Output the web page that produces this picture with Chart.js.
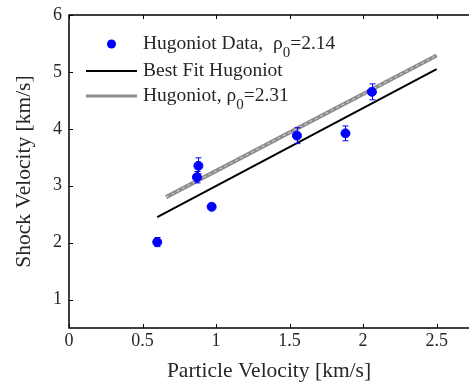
<!DOCTYPE html>
<html lang="en">
<head>
    <meta charset="UTF-8">
    <title>Hugoniot</title>
    <style>
        body {
            margin: 0;
            background: #fff;
        }
        #wrap {
            width: 469px;
            height: 385px;
        }
    </style>
    <script src="https://cdn.jsdelivr.net/npm/chart.js"></script>
</head>
<body>
    <div id="wrap">
        <canvas id="myChart" width="469" height="385"></canvas>
    </div>

    <script>
        // Hugoniot data points
        const dataX = [0.60, 0.88, 0.87, 0.97, 1.55, 1.88, 2.06];
        const dataY = [2.01, 3.35, 3.15, 2.63, 3.88, 3.92, 4.65];
        const dataErr = [0.08, 0.14, 0.10, 0.02, 0.14, 0.13, 0.14];

        // best fit line (end points)
        const fitX = [0.60, 2.50];
        const fitY = [2.45, 5.05];

        // Hugoniot for rho0 = 2.31 (end points)
        const hugX = [0.66, 2.50];
        const hugY = [2.80, 5.29];

        const xTicks = [0, 0.5, 1, 1.5, 2, 2.5];
        const yTicks = [1, 2, 3, 4, 5, 6];

        const legendLabels = ['Hugoniot Data,  ρ_0=2.14', 'Best Fit Hugoniot', 'Hugoniot, ρ_0=2.31'];

        const FONT = '"Liberation Serif", "DejaVu Serif", serif';
        const TXT = '#262626';

        function pts(xs, ys) {
            return xs.map((x, i) => ({ x: x, y: ys[i] }));
        }

        // error bars for the data points
        const errorBars = {
            id: 'errorBars',
            afterDatasetsDraw(chart) {
                const ctx = chart.ctx;
                const xs = chart.scales.x, ys = chart.scales.y;
                ctx.save();
                ctx.strokeStyle = '#0000ff';
                ctx.lineWidth = 1;
                dataX.forEach((x, i) => {
                    const px = Math.round(xs.getPixelForValue(x)) + 0.5;
                    const top = ys.getPixelForValue(dataY[i] + dataErr[i]);
                    const bot = ys.getPixelForValue(dataY[i] - dataErr[i]);
                    ctx.beginPath();
                    ctx.moveTo(px, top); ctx.lineTo(px, bot);
                    ctx.moveTo(px - 3, top); ctx.lineTo(px + 3, top);
                    ctx.moveTo(px - 3, bot); ctx.lineTo(px + 3, bot);
                    ctx.stroke();
                });
                ctx.restore();
            }
        };

        // matlab style box with inward ticks
        const boxAxes = {
            id: 'boxAxes',
            afterDraw(chart) {
                const ctx = chart.ctx;
                const a = chart.chartArea;
                const xs = chart.scales.x, ys = chart.scales.y;
                ctx.save();
                ctx.strokeStyle = '#000';
                ctx.lineWidth = 1.5;
                ctx.beginPath();
                ctx.rect(a.left, a.top, a.right - a.left + 5, a.bottom - a.top);
                ctx.stroke();
                ctx.lineWidth = 1;
                ctx.beginPath();
                xTicks.forEach(v => {
                    const px = Math.round(xs.getPixelForValue(v)) + 0.5;
                    ctx.moveTo(px, a.bottom); ctx.lineTo(px, a.bottom - 4);
                    ctx.moveTo(px, a.top); ctx.lineTo(px, a.top + 4);
                });
                yTicks.forEach(v => {
                    const py = Math.round(ys.getPixelForValue(v)) + 0.5;
                    ctx.moveTo(a.left, py); ctx.lineTo(a.left + 4, py);
                });
                ctx.stroke();
                ctx.restore();
            }
        };

        // legend drawn by hand because of the subscripts
        const hugLegend = {
            id: 'hugLegend',
            afterDraw(chart) {
                const ctx = chart.ctx;
                const rows = [44, 71, 96];
                ctx.save();
                ctx.textBaseline = 'middle';
                legendLabels.forEach((lab, i) => {
                    const y = rows[i];
                    // sample
                    if (i === 0) {
                        ctx.fillStyle = '#0000ff';
                        ctx.beginPath();
                        ctx.arc(111.5, y, 4.5, 0, Math.PI * 2);
                        ctx.fill();
                    } else {
                        ctx.strokeStyle = i === 1 ? '#000' : '#8c8c8c';
                        ctx.lineWidth = i === 1 ? 2 : 3;
                        ctx.beginPath();
                        ctx.moveTo(86, y); ctx.lineTo(137, y);
                        ctx.stroke();
                    }
                    // text with subscript
                    ctx.fillStyle = TXT;
                    let x = 143;
                    const parts = lab.split('_');
                    ctx.font = '19.5px ' + FONT;
                    ctx.fillText(parts[0], x, y);
                    x += ctx.measureText(parts[0]).width;
                    if (parts.length > 1) {
                        const sub = parts[1].charAt(0);
                        const rest = parts[1].slice(1);
                        ctx.font = '15px ' + FONT;
                        ctx.fillText(sub, x, y + 9);
                        x += ctx.measureText(sub).width;
                        ctx.font = '19.5px ' + FONT;
                        ctx.fillText(rest, x, y);
                    }
                });
                ctx.restore();
            }
        };

        const ctx = document.getElementById('myChart').getContext('2d');
        const myChart = new Chart(ctx, {
            type: 'scatter',
            data: {
                datasets: [
                    {
                        label: 'Hugoniot Data',
                        data: pts(dataX, dataY),
                        backgroundColor: '#0000ff',
                        borderColor: '#0000ff',
                        pointRadius: 4.5,
                        order: 0
                    },
                    {
                        label: 'Best Fit Hugoniot',
                        type: 'line',
                        data: pts(fitX, fitY),
                        borderColor: '#000',
                        borderWidth: 2,
                        pointRadius: 0,
                        order: 2
                    },
                    {
                        label: 'Hugoniot',
                        type: 'line',
                        data: pts(hugX, hugY),
                        borderColor: '#8c8c8c',
                        borderWidth: 4,
                        pointRadius: 0,
                        order: 3
                    },
                    {
                        label: 'Hugoniot band',
                        type: 'line',
                        data: pts(hugX, hugY),
                        borderColor: '#c8c8c8',
                        borderWidth: 1.2,
                        borderDash: [3, 3],
                        pointRadius: 0,
                        order: 1
                    }
                ]
            },
            options: {
                responsive: false,
                animation: false,
                events: [],
                layout: { autoPadding: false, padding: { top: 15, right: 0, left: 0, bottom: 0 } },
                plugins: {
                    legend: { display: false },
                    tooltip: { enabled: false }
                },
                scales: {
                    x: {
                        type: 'linear',
                        min: 0,
                        max: 2.72,
                        afterBuildTicks: s => { s.ticks = xTicks.map(v => ({ value: v })); },
                        afterFit: s => {
                            s.height = 57;
                            s.paddingLeft = 0;
                            s.paddingRight = 0;
                        },
                        grid: { display: false, drawTicks: false },
                        border: { display: false },
                        ticks: {
                            padding: 2,
                            color: TXT,
                            font: { family: FONT, size: 18 },
                            maxRotation: 0,
                            callback: v => String(v)
                        },
                        title: {
                            display: true,
                            text: 'Particle Velocity [km/s]',
                            color: TXT,
                            font: { family: FONT, size: 21.5 },
                            padding: { top: 0, bottom: 1 }
                        }
                    },
                    y: {
                        type: 'linear',
                        min: 0.5,
                        max: 6,
                        afterBuildTicks: s => { s.ticks = yTicks.map(v => ({ value: v })); },
                        afterFit: s => {
                            s.width = 69;
                            s.paddingTop = 0;
                            s.paddingBottom = 0;
                        },
                        grid: { display: false, drawTicks: false },
                        border: { display: false },
                        ticks: {
                            padding: 7,
                            color: TXT,
                            font: { family: FONT, size: 18 },
                            callback: v => String(v)
                        },
                        title: {
                            display: true,
                            text: 'Shock Velocity [km/s]',
                            color: TXT,
                            font: { family: FONT, size: 21.5 },
                            padding: { top: 11, bottom: 0 }
                        }
                    }
                }
            },
            plugins: [errorBars, boxAxes, hugLegend]
        });
    </script>
</body>
</html>
